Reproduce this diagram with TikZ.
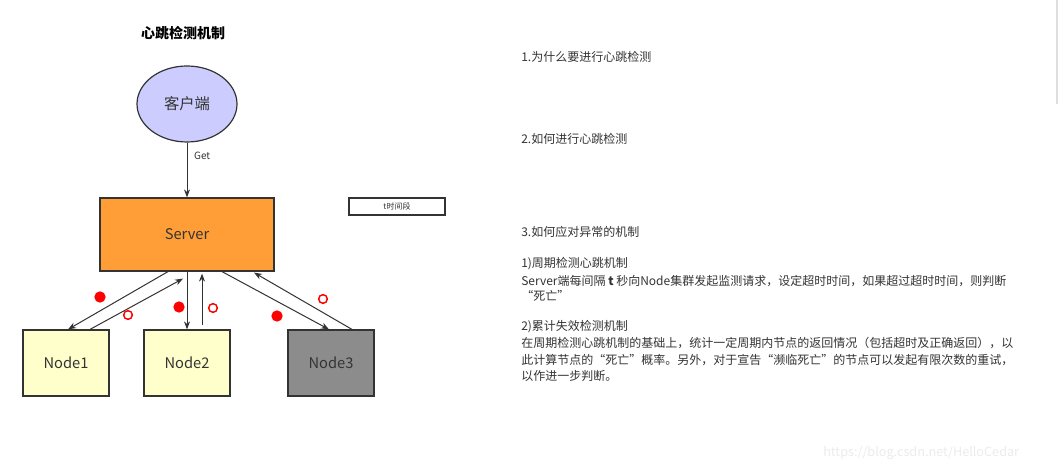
\documentclass[tikz,border=0pt]{standalone}
\usepackage{fontspec}
\setmainfont{Noto Sans CJK SC}
\usetikzlibrary{calc,arrows.meta,shapes.geometric}
\definecolor{linec}{HTML}{333333}
\definecolor{txtc}{HTML}{333333}
\definecolor{clientc}{HTML}{CCCCFF}
\definecolor{serverc}{HTML}{FF9E36}
\definecolor{nodec}{HTML}{FFFFCC}
\definecolor{deadc}{HTML}{8C8C8C}
\definecolor{wmc}{HTML}{EBEBEB}
\tikzset{
  box/.style={draw=linec, line width=0.9pt, rectangle, inner sep=0pt, text=txtc,
    font=\fontsize{11pt}{12pt}\selectfont},
  nodebox/.style={box, minimum width=64.5pt, minimum height=49.5pt, fill=nodec},
  conn/.style={draw=linec, line width=0.75pt, -{Stealth[length=6pt,width=4.5pt]}},
  reddot/.style={circle, fill=red, inner sep=0pt, minimum size=8.5pt},
  redring/.style={circle, draw=red, line width=1.1pt, inner sep=0pt, minimum size=6.5pt},
  line/.style={anchor=west, inner sep=0pt, text=txtc, font=\fontsize{9pt}{12pt}\selectfont},
}
\begin{document}
\begin{tikzpicture}[x=0.75pt,y=-0.75pt]
\useasboundingbox (0,0) rectangle (1060,473);
% title
\node[inner sep=0pt, font=\fontsize{10.5pt}{12pt}\selectfont\bfseries, text=black] (title) at (183,33) {心跳检测机制};
% client
\node[ellipse, draw=linec, line width=0.9pt, fill=clientc, minimum width=75pt, minimum height=57pt, inner sep=0pt, text=txtc, font=\fontsize{11.5pt}{13pt}\selectfont] (client) at (187,104) {客户端};
% server
\node[box, fill=serverc, minimum width=130.5pt, minimum height=54.75pt] (srv) at (187,234.5) {Server};
% t box
\node[draw=linec, line width=0.8pt, minimum width=72pt, minimum height=12.75pt, inner sep=0pt, text=txtc, font=\fontsize{6pt}{7pt}\selectfont] (tbox) at (397,206.5) {t时间段};
% nodes
\node[nodebox] (n1) at (66,363) {Node1};
\node[nodebox] (n2) at (187,363) {Node2};
\node[nodebox, fill=deadc] (n3) at (331,363) {Node3};
% client -> server
\draw[conn] (client.south) -- node[right, pos=0.25, inner sep=5pt, text=txtc, font=\fontsize{7.5pt}{9pt}\selectfont] (get) {Get} (srv.north);
% server <-> nodes
\draw[conn] ($(srv.south)+(-19,0)$) -- ($(n1.north)+(2,0)$);
\draw[conn] ($(n1.north)+(24,0)$) -- ($(srv.south)+(-4,7)$);
\draw[conn] (srv.south) -- (n2.north);
\draw[conn] ($(n2.north)+(15,-4)$) -- ($(srv.south)+(15,2)$);
\draw[conn] ($(srv.south)+(35,0)$) -- ($(n3.north)+(-2,0)$);
\draw[conn] ($(n3.north)+(21,0)$) -- ($(srv.south)+(67,1)$);
% markers
\node[reddot] (d1) at (100,297) {};
\node[reddot] (d2) at (179,307) {};
\node[reddot] (d3) at (277,316) {};
\node[redring] (r1) at (128,315) {};
\node[redring] (r2) at (213,308) {};
\node[redring] (r3) at (323,299) {};
% right text
\node[line] (t1) at (521,57) {1.为什么要进行心跳检测};
\node[line] (t2) at (521,139) {2.如何进行心跳检测};
\node[line] (t3) at (521,232) {3.如何应对异常的机制};
\node[line] (t4) at (521,264) {1)周期检测心跳机制};
\node[line] (t5) at (521,281) {Server端每间隔 \textbf{t} 秒向Node集群发起监测请求，设定超时时间，如果超过超时时间，则判断};
\node[line] (t6) at (521,296) {“死亡”};
\node[line] (t7) at (521,327) {2)累计失效检测机制};
\node[line] (t8) at (521,343) {在周期检测心跳机制的基础上，统计一定周期内节点的返回情况（包括超时及正确返回），以};
\node[line] (t9) at (521,360) {此计算节点的“死亡”概率。另外，对于宣告“濒临死亡”的节点可以发起有限次数的重试，};
\node[line] (t10) at (521,376) {以作进一步判断。};
% watermark
\node[anchor=west, inner sep=0pt, text=wmc, font=\fontsize{9.5pt}{11pt}\selectfont] (wm) at (823,453) {https://blog.csdn.net/HelloCedar};
% scrollbar hint
\fill[gray!25] (1056,0) rectangle (1058,104);
\end{tikzpicture}
\end{document}
